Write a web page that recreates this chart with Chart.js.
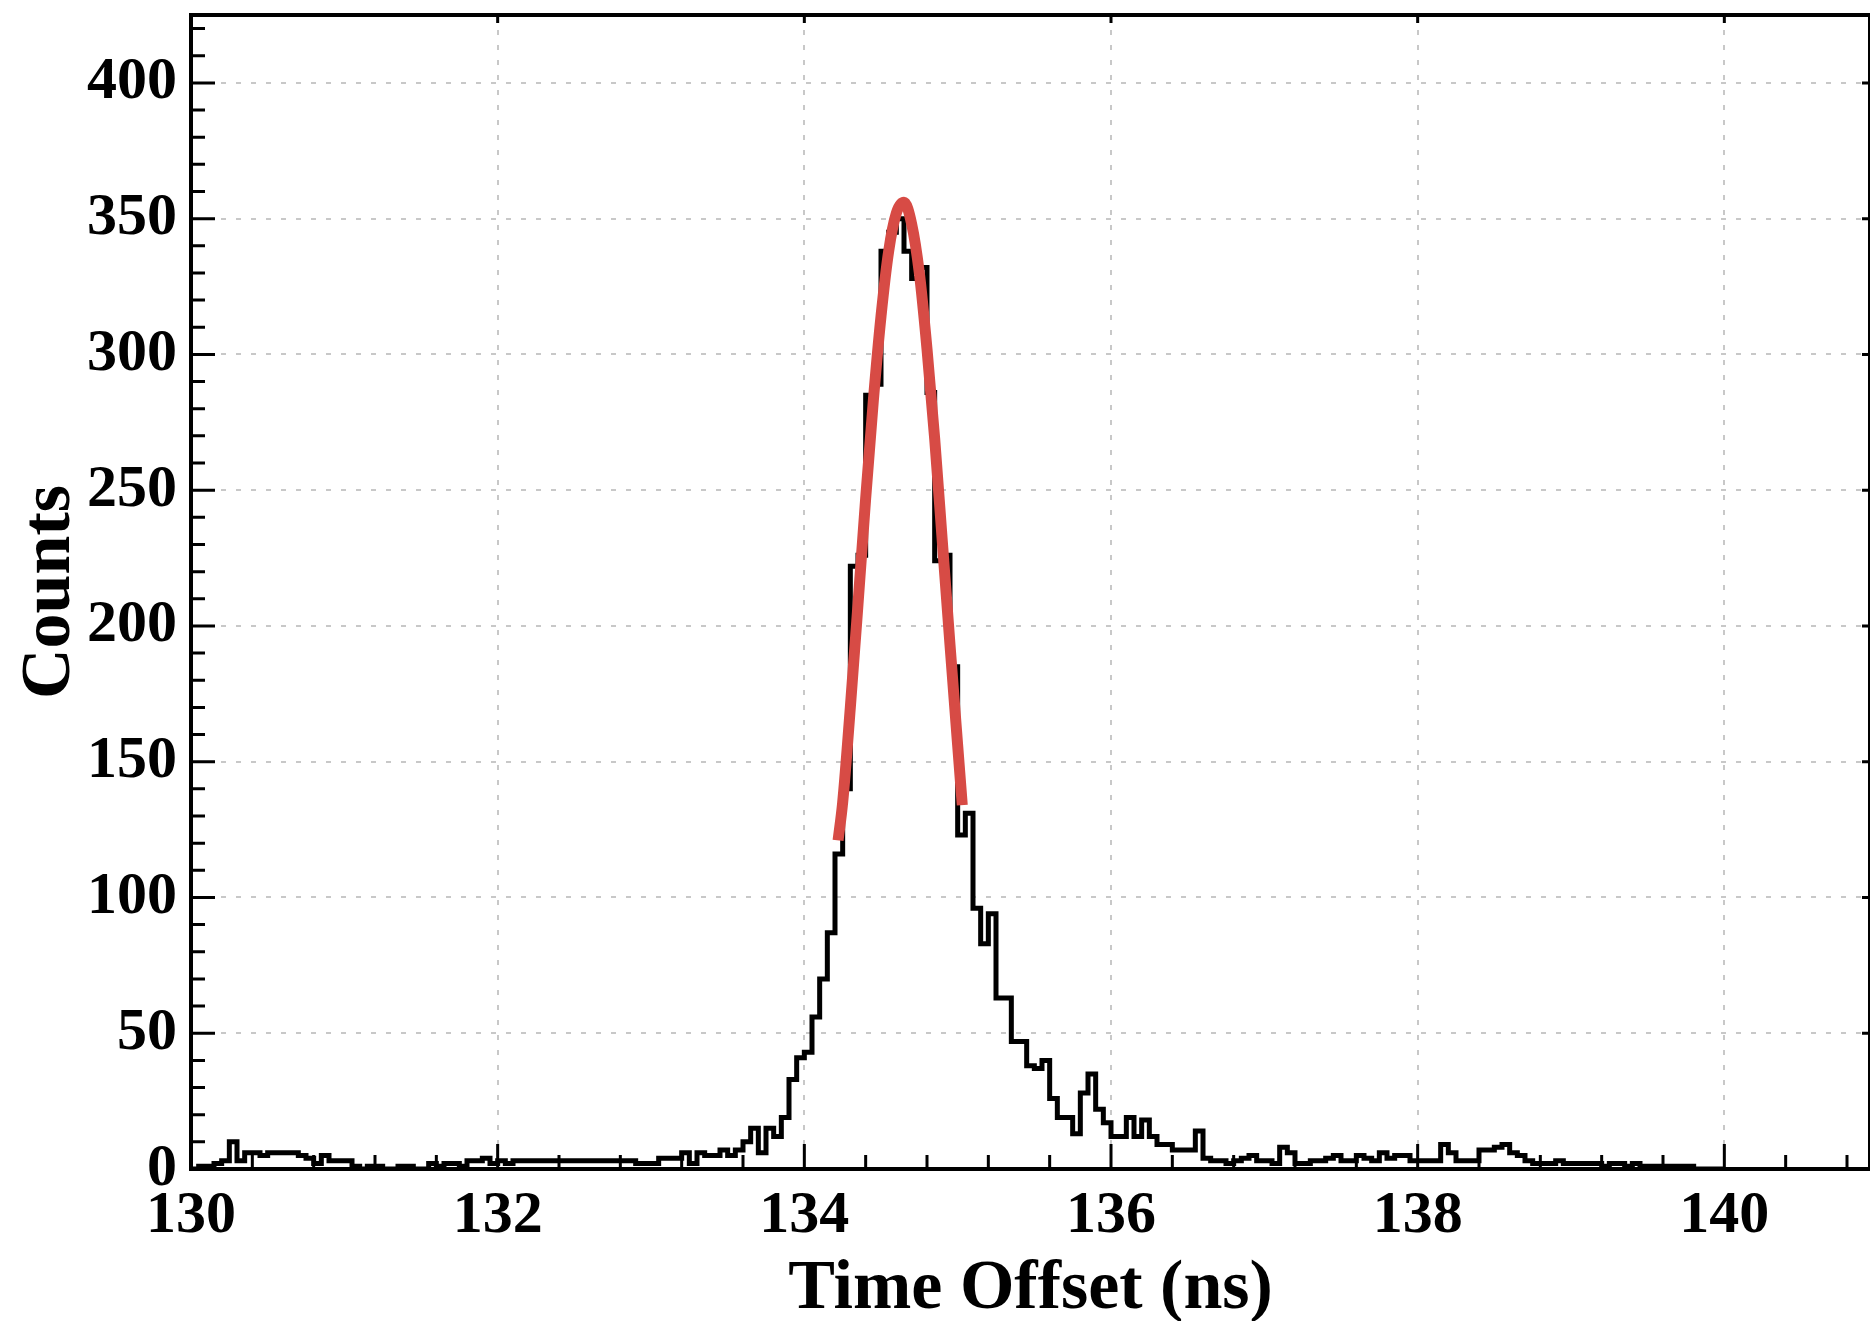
<!DOCTYPE html>
<html>
<head>
<meta charset="utf-8">
<title>Time Offset</title>
<script src="https://cdn.jsdelivr.net/npm/chart.js@4.4.1/dist/chart.umd.min.js"></script>
<style>
  html, body { margin: 0; padding: 0; background: #fff; }
  #wrap { width: 1870px; height: 1321px; }
</style>
</head>
<body>
<div id="wrap"><canvas id="timeChart" width="1870" height="1321"></canvas></div>
<script>
// histogram: 0.05 ns bins starting at 130 ns
const binLow = 130;
const binWidth = 0.05;
const counts = [
    0, 1, 1, 2, 3, 10, 3, 6, 6, 5,          // 130.0
    6, 6, 6, 6, 5, 4, 2, 5, 3, 3,           // 130.5
    3, 1, 0, 1, 1, 0, 0, 1, 1, 0,           // 131.0
    0, 2, 1, 2, 2, 1, 3, 3, 4, 2,           // 131.5
    3, 2, 3, 3, 3, 3, 3, 3, 3, 3,           // 132.0
    3, 3, 3, 3, 3, 3, 3, 3, 2, 2,           // 132.5
    2, 4, 4, 4, 6, 2, 6, 5, 5, 7,           // 133.0
    5, 7, 10, 15, 6, 15, 12, 19, 33, 41,    // 133.5
    43, 56, 70, 87, 116, 140, 222, 226, 285, 289,   // 134.0
    338, 345, 350, 338, 328, 332, 286, 224, 226, 185, // 134.5
    123, 131, 96, 83, 94, 63, 63, 47, 47, 38,       // 135.0
    37, 40, 26, 19, 19, 13, 28, 35, 22, 17, // 135.5
    12, 12, 19, 12, 18, 12, 9, 9, 7, 7,     // 136.0
    7, 14, 4, 3, 3, 2, 3, 4, 5, 3,          // 136.5
    3, 2, 8, 6, 2, 2, 3, 3, 4, 5,           // 137.0
    3, 3, 5, 4, 3, 6, 4, 5, 5, 3,           // 137.5
    3, 3, 3, 9, 6, 3, 3, 3, 7, 7,           // 138.0
    8, 9, 6, 5, 3, 2, 2, 2, 3, 2,           // 138.5
    2, 2, 2, 2, 1, 2, 2, 1, 2, 1,           // 139.0
    1, 1, 1, 1, 1, 1, 0, 0, 0, 0            // 139.5
];

// red gaussian fit
const fitTimes  = [134.22, 134.25, 134.30, 134.35, 134.40, 134.45, 134.50, 134.55, 134.60,
                   134.65, 134.70, 134.75, 134.80, 134.85, 134.90, 134.95, 135.00, 135.03];
const fitCounts = [121, 135, 170, 208, 247, 283, 314, 338, 352,
                   356, 348, 330, 302, 269, 231, 193, 156, 134];

// axes
const xMin = 130, xMax = 140.95;
const yMin = 0, yMax = 425;
const xTickValues = [130, 132, 134, 136, 138, 140];
const yTickValues = [0, 50, 100, 150, 200, 250, 300, 350, 400];

const FONT = 'Liberation Serif';

// histogram points: one per bin start + closing edge
const histPoints = counts.map((c, i) => ({ x: binLow + i * binWidth, y: c }));
histPoints.push({ x: binLow + counts.length * binWidth, y: counts[counts.length - 1] });

const fitPoints = fitTimes.map((t, i) => ({ x: t, y: fitCounts[i] }));

// ROOT-like frame with inward ticks
const frameAndTicks = {
    id: 'frameAndTicks',
    afterDatasetsDraw(chart) {
        const { ctx, chartArea: a, scales: { x, y } } = chart;
        ctx.save();
        ctx.strokeStyle = '#000';
        ctx.lineWidth = 3;
        ctx.beginPath();

        // x ticks, 5 subdivisions per major
        const xStep = (xTickValues[1] - xTickValues[0]) / 5;
        for (let k = 0; ; k++) {
            const v = xTickValues[0] + k * xStep;
            if (v > x.max + 1e-9) break;
            const px = x.getPixelForValue(v);
            const major = k % 5 === 0;
            ctx.moveTo(px, a.bottom);
            ctx.lineTo(px, a.bottom - (major ? 25 : 14));
            if (major) {
                ctx.moveTo(px, a.top);
                ctx.lineTo(px, a.top + 8);
            }
        }

        // y ticks
        const yStep = (yTickValues[1] - yTickValues[0]) / 5;
        for (let k = 0; ; k++) {
            const v = yTickValues[0] + k * yStep;
            if (v > y.max + 1e-9) break;
            const py = y.getPixelForValue(v);
            const major = k % 5 === 0;
            ctx.moveTo(a.left, py);
            ctx.lineTo(a.left + (major ? 24 : 14), py);
            if (major) {
                ctx.moveTo(a.right, py);
                ctx.lineTo(a.right - 8, py);
            }
        }
        ctx.stroke();

        ctx.lineWidth = 4;
        ctx.strokeRect(a.left, a.top, a.right - a.left, a.bottom - a.top);
        ctx.restore();
    }
};

const ctx = document.getElementById('timeChart').getContext('2d');
new Chart(ctx, {
    type: 'line',
    data: {
        datasets: [
            {
                label: 'Fit',
                data: fitPoints,
                borderColor: '#d74b45',
                borderWidth: 11,
                pointRadius: 0,
                cubicInterpolationMode: 'monotone',
                fill: false,
                order: 0
            },
            {
                label: 'Counts',
                data: histPoints,
                borderColor: '#000000',
                borderWidth: 5,
                borderJoinStyle: 'miter',
                pointRadius: 0,
                stepped: true,
                tension: 0,
                fill: false,
                order: 1
            }
        ]
    },
    options: {
        responsive: false,
        devicePixelRatio: 1,
        animation: false,
        layout: { padding: { top: 15, right: 0, bottom: 0, left: 0 } },
        plugins: {
            legend: { display: false },
            tooltip: { enabled: false }
        },
        scales: {
            x: {
                type: 'linear',
                min: xMin,
                max: xMax,
                afterBuildTicks: (scale) => { scale.ticks = xTickValues.map(v => ({ value: v })); },
                afterFit: (scale) => {
                    scale.height = 152;
                    scale.paddingLeft = 0;
                    scale.paddingRight = 0;
                },
                grid: { color: '#c8c8c8', lineWidth: 2, drawTicks: false },
                border: { display: false, dash: [5, 10] },
                ticks: {
                    color: '#000',
                    padding: 11,
                    maxRotation: 0,
                    autoSkip: false,
                    font: { family: FONT, weight: 'bold', size: 60 }
                },
                title: {
                    display: true,
                    text: 'Time Offset (ns)',
                    color: '#000',
                    padding: { top: 0, bottom: 0 },
                    font: { family: FONT, weight: 'bold', size: 70, lineHeight: 0.9 }
                }
            },
            y: {
                type: 'linear',
                min: yMin,
                max: yMax,
                afterBuildTicks: (scale) => { scale.ticks = yTickValues.map(v => ({ value: v })); },
                afterFit: (scale) => {
                    scale.width = 191;
                    scale.paddingTop = 0;
                    scale.paddingBottom = 0;
                },
                grid: { color: '#c8c8c8', lineWidth: 2, drawTicks: false },
                border: { display: false, dash: [5, 10] },
                ticks: {
                    color: '#000',
                    padding: 14,
                    autoSkip: false,
                    font: { family: FONT, weight: 'bold', size: 60 }
                },
                title: {
                    display: true,
                    text: 'Counts',
                    color: '#000',
                    padding: { top: 16, bottom: 0 },
                    font: { family: FONT, weight: 'bold', size: 70, lineHeight: 1 }
                }
            }
        }
    },
    plugins: [frameAndTicks]
});
</script>
</body>
</html>
